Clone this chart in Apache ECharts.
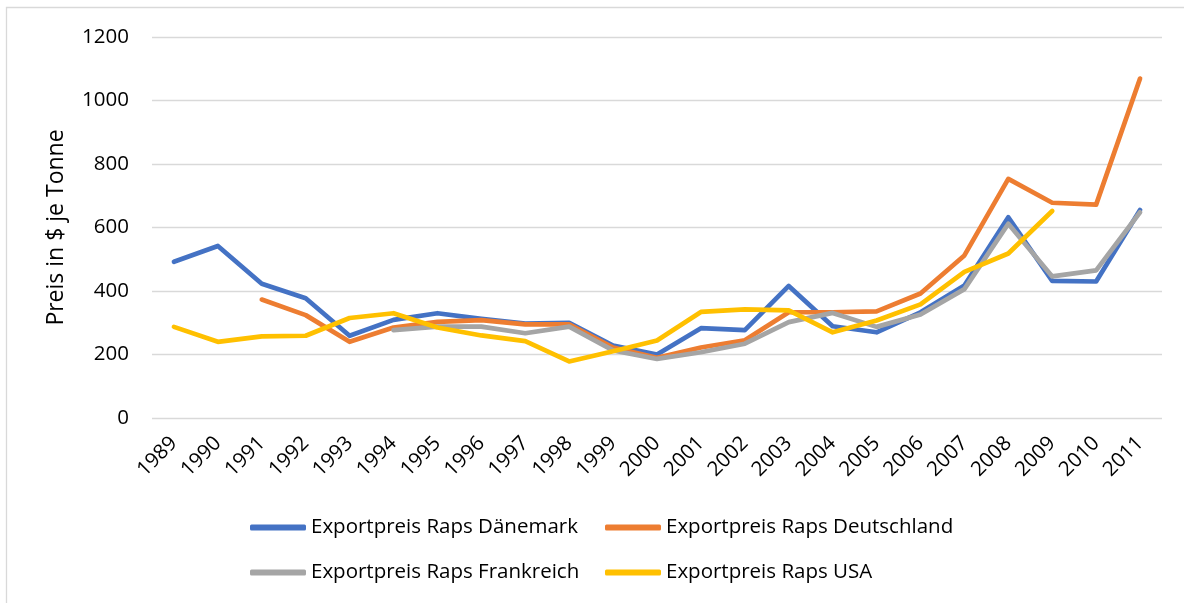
<!DOCTYPE html>
<html>
<head>
<meta charset="utf-8">
<script src="https://cdn.jsdelivr.net/npm/echarts@6/dist/echarts.min.js"></script>
<style>
html,body{margin:0;padding:0;background:#fff;}
#chart{width:1184px;height:603px;}
</style>
</head>
<body>
<div id="chart"></div>
<script>
const years = ['1989','1990','1991','1992','1993','1994','1995','1996','1997','1998','1999','2000','2001','2002','2003','2004','2005','2006','2007','2008','2009','2010','2011'];
const daenemark   = [492,542,423,377,259,309,330,312,297,300,228,200,283,277,416,289,270,333,417,632,432,430,655];
const deutschland = [null,null,373,324,240,285,303,308,295,295,222,190,222,245,333,333,336,392,512,753,678,672,1069];
const frankreich  = [null,null,null,null,null,277,288,288,267,288,213,186,207,234,302,331,287,326,406,612,446,465,648];
const usa         = [287,240,257,259,315,330,285,260,242,178,210,244,334,342,339,270,307,358,460,518,652,null,null];
const seriesNames = ['Exportpreis Raps Dänemark','Exportpreis Raps Deutschland','Exportpreis Raps Frankreich','Exportpreis Raps USA'];
const colors = ['#4472C4','#ED7D31','#A5A5A5','#FFC000'];
const yTicks = {min:0, max:1200, interval:200};

const FONT = 'Open Sans';
const dataSets = [daenemark, deutschland, frankreich, usa];

const chart = echarts.init(document.getElementById('chart'), null, {renderer:'canvas'});

function legendItem(name, left, top){
  return {
    data:[name], left:left, top:top, orient:'horizontal', padding:0,
    icon:'roundRect', itemWidth:56, itemHeight:6, itemGap:0,
    textStyle:{fontFamily:FONT, fontSize:20.5, color:'#000'},
    selectedMode:false
  };
}

chart.setOption({
  animation:false,
  backgroundColor:'#fff',
  color:colors,
  graphic:[{
    type:'rect', silent:true,
    shape:{x:6.5, y:7.5, width:1200, height:620},
    style:{fill:'none', stroke:'#d9d9d9', lineWidth:1.3}
  }],
  grid:{left:152, right:22, top:37, bottom:185},
  legend:[
    legendItem(seriesNames[0], 250, 517),
    legendItem(seriesNames[1], 605, 517),
    legendItem(seriesNames[2], 250, 562),
    legendItem(seriesNames[3], 605, 562)
  ],
  xAxis:{
    type:'category', data:years, boundaryGap:true,
    axisLine:{show:false}, axisTick:{show:false},
    axisLabel:{rotate:45, interval:0, margin:22, fontFamily:FONT, fontSize:20.5, color:'#000'}
  },
  yAxis:{
    type:'value', min:yTicks.min, max:yTicks.max, interval:yTicks.interval,
    name:'Preis in $ je Tonne', nameLocation:'middle', nameGap:84,
    nameTextStyle:{fontFamily:FONT, fontSize:23, color:'#000'},
    axisLine:{show:false}, axisTick:{show:false},
    splitLine:{lineStyle:{color:'#d9d9d9', width:1.3}},
    axisLabel:{margin:23, fontFamily:FONT, fontSize:20.5, color:'#000', formatter:function(v){return String(v);}}
  },
  series: dataSets.map((d,i)=>({
    name:seriesNames[i], type:'line', data:d, showSymbol:false, symbol:'none',
    lineStyle:{width:4.7, color:colors[i], cap:'round', join:'round'},
    itemStyle:{color:colors[i]},
    connectNulls:false
  }))
});
</script>
</body>
</html>
